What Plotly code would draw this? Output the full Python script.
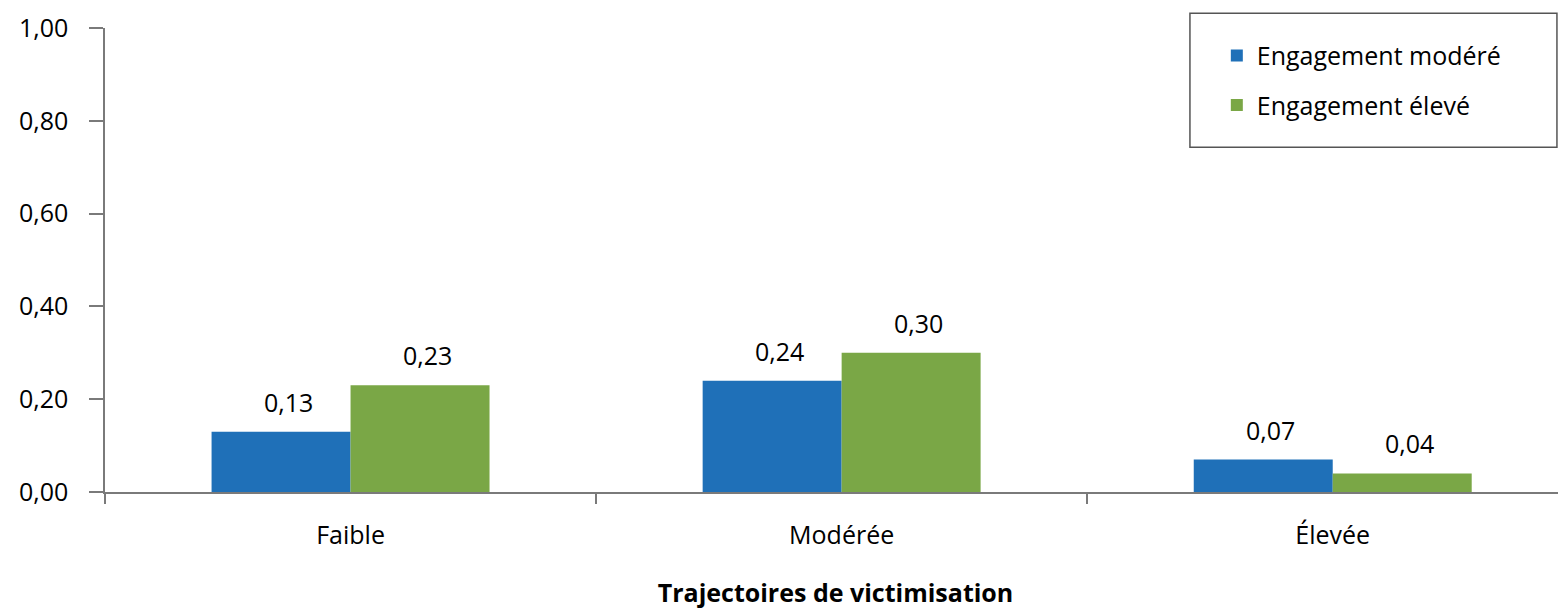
import plotly.graph_objects as go

categories = ["Faible", "Modérée", "Élevée"]
engagement_modere = [0.13, 0.24, 0.07]
engagement_eleve = [0.23, 0.30, 0.04]
series_names = ["Engagement modéré", "Engagement élevé"]
y_ticks = [0.0, 0.2, 0.4, 0.6, 0.8, 1.0]
x_title = "Trajectoires de victimisation"

BLUE = "#1F70B8"
GREEN = "#7AA746"
AXIS = "#7a7a7a"
FONT = "Open Sans"
FS = 25

fig = go.Figure()
fig.add_trace(go.Bar(x=categories, y=engagement_modere, name=series_names[0],
                     marker=dict(color=BLUE, line=dict(width=0)), legendgroup="a"))
fig.add_trace(go.Bar(x=categories, y=engagement_eleve, name=series_names[1],
                     marker=dict(color=GREEN, line=dict(width=0)), legendgroup="b"))

annotations = []
for vals, shift in ((engagement_modere, -62), (engagement_eleve, 77)):
    for c, v in zip(categories, vals):
        annotations.append(dict(x=c, y=v, xref="x", yref="y", text=f"{v:.2f}".replace(".", ","),
                                showarrow=False, xshift=shift, yshift=30, yanchor="middle",
                                font=dict(family=FONT, size=FS, color="black")))

# the page body adds an 8px offset, so the figure is 8px smaller and margins shifted
fig.update_layout(
    width=1558, height=601,
    margin=dict(l=97, r=0, t=20, b=117),
    paper_bgcolor="white", plot_bgcolor="white",
    separators=", ",
    barmode="group", bargap=0.434, bargroupgap=0,
    font=dict(family=FONT, size=FS, color="black"),
    showlegend=True,
    legend=dict(x=0.761, y=0.99, xanchor="left", yanchor="top",
                bgcolor="rgba(0,0,0,0)", borderwidth=0,
                font=dict(family=FONT, size=FS, color="black"),
                tracegroupgap=14, itemsizing="constant"),
    annotations=annotations,
    shapes=[dict(type="rect", xref="paper", yref="paper", x0=0.7426, x1=0.9938,
                 y0=0.743, y1=1.032, line=dict(color="#555555", width=1.5),
                 fillcolor="rgba(0,0,0,0)")],
)
fig.update_xaxes(range=[-0.5, 2.475], showline=True, linecolor=AXIS, linewidth=1.5,
                 ticks="outside", ticklen=10, tickcolor=AXIS, tickwidth=1.5,
                 tickson="boundaries", showgrid=False, zeroline=False,
                 ticklabelstandoff=20,
                 title=dict(text="<b>" + x_title + "</b>", standoff=40,
                            font=dict(family=FONT, size=FS, color="black")))
fig.update_yaxes(range=[0, 1.0], tickvals=y_ticks, tickformat=".2f",
                 showline=True, linecolor=AXIS, linewidth=1.5,
                 ticks="outside", ticklen=14, tickcolor=AXIS, tickwidth=1.5,
                 showgrid=False, zeroline=False, ticklabelstandoff=16)

fig.write_html("out.html")
